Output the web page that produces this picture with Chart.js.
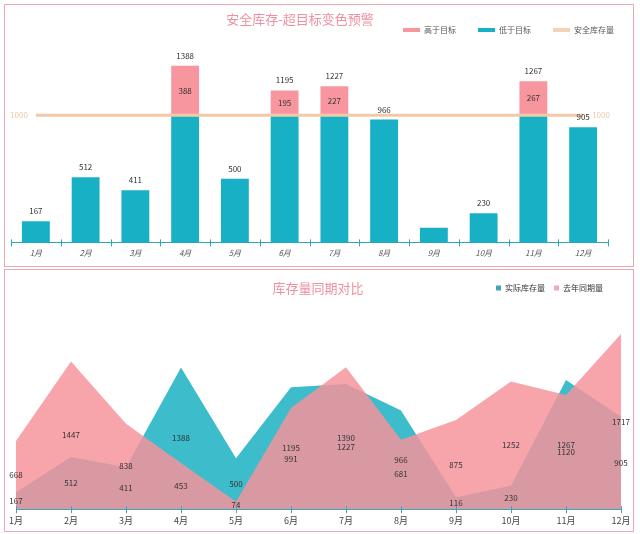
<!DOCTYPE html>
<html><head><meta charset="utf-8">
<script src="https://cdn.jsdelivr.net/npm/chart.js@4.4.1/dist/chart.umd.min.js"></script>
<style>
html,body{margin:0;padding:0;background:#fff;}
body{width:640px;height:534px;position:relative;overflow:hidden;font-family:"Noto Sans CJK SC",sans-serif;}
.panel{position:absolute;left:4px;width:628px;height:261px;border:1px solid #eba8b0;}
#p1{top:4px;}
#p2{top:269px;}
.wrap{position:absolute;left:0;width:640px;height:266px;}
#w1{top:0;}
#w2{top:268px;}
canvas{display:block;}
</style></head>
<body>
<div class="panel" id="p1"></div><div class="panel" id="p2"></div>
<div class="wrap" id="w1"><canvas id="c1" width="640" height="266"></canvas></div>
<div class="wrap" id="w2"><canvas id="c2" width="640" height="266"></canvas></div>
<script>
// ---- data ----
const months = ['1月','2月','3月','4月','5月','6月','7月','8月','9月','10月','11月','12月'];
const actualStock   = [167, 512, 411, 1388, 500, 1195, 1227, 966, 116, 230, 1267, 905];
const belowTarget   = [167, 512, 411, 1000, 500, 1000, 1000, 966, 116, 230, 1000, 905];
const aboveTarget   = [0, 0, 0, 388, 0, 195, 227, 0, 0, 0, 267, 0];
const safetyStock   = [1000, 1000, 1000, 1000, 1000, 1000, 1000, 1000, 1000, 1000, 1000, 1000];
const barTopLabels  = ['167','512','411','1388','500','1195','1227','966','','230','1267','905'];
const lastYearStock = [668, 1447, 838, 453, 74, 991, 1390, 681, 875, 1252, 1120, 1717];
const title1 = '安全库存-超目标变色预警';
const title2 = '库存量同期对比';
const legend1 = ['低于目标', '高于目标', '安全库存量'];
const legend2 = ['去年同期量', '实际库存量'];

const FAM = '"Noto Sans CJK SC", "Noto Sans", sans-serif';
const TEAL = '#18b0c4', PINK = '#f7969f', PEACH = '#f3caa8';

const titlePlugin = {
  id: 'customTitle',
  afterDraw(chart, args, o) {
    const ctx = chart.ctx; ctx.save();
    ctx.font = o.size + 'px ' + FAM; ctx.fillStyle = o.color;
    ctx.textAlign = 'center'; ctx.textBaseline = 'middle';
    ctx.fillText(o.text, o.x, o.y); ctx.restore();
  }
};
const legendShift = {
  id: 'legendShift',
  afterLayout(chart, args, o) {
    if (chart.legend && o.right) { chart.legend.right = o.right; }
  }
};
const tickPlugin = {
  id: 'axisTicks',
  afterDraw(chart, args, o) {
    const xs = chart.scales.x, ctx = chart.ctx, y0 = chart.chartArea.bottom;
    const n = chart.data.labels.length;
    const pos = [];
    if (o.between) { for (let i = 0; i <= n; i++) pos.push(xs.getPixelForValue(i - 0.5)); }
    else { for (let i = 0; i < n; i++) pos.push(xs.getPixelForValue(i)); }
    ctx.save(); ctx.strokeStyle = o.color; ctx.lineWidth = 1;
    pos.forEach(p => { const px = Math.round(p) + 0.5; ctx.beginPath(); ctx.moveTo(px, y0 - 3); ctx.lineTo(px, y0 + 4); ctx.stroke(); });
    ctx.restore();
  }
};

const barLabelPlugin = {
  id: 'barLabels',
  afterDatasetsDraw(chart) {
    const xs = chart.scales.x, ys = chart.scales.y, ctx = chart.ctx;
    ctx.save();
    ctx.font = '8px ' + FAM; ctx.fillStyle = '#333'; ctx.textAlign = 'center'; ctx.textBaseline = 'middle';
    actualStock.forEach((v, i) => {
      const px = xs.getPixelForValue(i);
      if (barTopLabels[i]) ctx.fillText(barTopLabels[i], px, ys.getPixelForValue(v) - 10);
      if (aboveTarget[i] > 0) {
        const yMid = (ys.getPixelForValue(belowTarget[i]) + ys.getPixelForValue(belowTarget[i] + aboveTarget[i])) / 2;
        ctx.fillText(String(aboveTarget[i]), px, yMid);
      }
    });
    const meta = chart.getDatasetMeta(2);
    const first = meta.data[0], last = meta.data[meta.data.length - 1];
    ctx.fillStyle = '#ecc9ad';
    ctx.textAlign = 'right'; ctx.fillText(String(safetyStock[0]), first.x - 8, first.y);
    ctx.textAlign = 'left'; ctx.fillText(String(safetyStock[safetyStock.length - 1]), last.x + 9, last.y);
    ctx.restore();
  }
};

const areaLabelPlugin = {
  id: 'areaLabels',
  afterDatasetsDraw(chart) {
    const xs = chart.scales.x, ys = chart.scales.y, ctx = chart.ctx;
    ctx.save();
    ctx.font = '8px ' + FAM; ctx.fillStyle = '#333'; ctx.textAlign = 'center'; ctx.textBaseline = 'middle';
    [actualStock, lastYearStock].forEach(arr => arr.forEach((v, i) => {
      ctx.fillText(String(v), xs.getPixelForValue(i), ys.getPixelForValue(v / 2));
    }));
    ctx.restore();
  }
};

function legendItems(chart) {
  const items = Chart.defaults.plugins.legend.labels.generateLabels(chart);
  items.forEach(it => {
    const ds = chart.data.datasets[it.datasetIndex];
    it.fillStyle = ds.legendColor || ds.backgroundColor;
    it.strokeStyle = it.fillStyle; it.lineWidth = 0;
  });
  return items;
}

// ---- chart 1 ----
const legendRank1 = {0: 1, 1: 0, 2: 2};
new Chart(document.getElementById('c1'), {
  type: 'bar',
  data: {
    labels: months,
    datasets: [
      { label: legend1[0], data: belowTarget, backgroundColor: TEAL, order: 2, stack: 's', categoryPercentage: 1, barPercentage: 0.56 },
      { label: legend1[1], data: aboveTarget, backgroundColor: PINK, order: 3, stack: 's', categoryPercentage: 1, barPercentage: 0.56 },
      { type: 'line', label: legend1[2], data: safetyStock, borderColor: PEACH, backgroundColor: PEACH, legendColor: '#f2d3ba', borderWidth: 3, pointRadius: 0, fill: false, order: 0, stack: 'line' }
    ]
  },
  options: {
    responsive: false, animation: false, devicePixelRatio: 1,
    layout: { padding: { left: 11, right: 32, top: 4, bottom: 2 } },
    scales: {
      x: { stacked: true, offset: true, grid: { display: false, drawTicks: false },
           border: { display: true, color: '#2aa7b9', width: 1 },
           ticks: { font: { size: 8, style: 'italic', family: FAM }, color: '#555', padding: 6, maxRotation: 0, autoSkip: false } },
      y: { stacked: true, display: false, min: 0, max: 1560 }
    },
    plugins: {
      title: { display: false }, tooltip: { enabled: false },
      legend: { position: 'top', align: 'end',
        labels: { boxWidth: 17, boxHeight: 4, padding: 22, font: { size: 8, family: FAM }, color: '#555',
                  sort: (a, b) => legendRank1[a.datasetIndex] - legendRank1[b.datasetIndex], generateLabels: legendItems } },
      customTitle: { text: title1, x: 300, y: 19, size: 13, color: '#f0909f' },
      legendShift: { right: 636 },
      axisTicks: { between: true, color: '#2aa7b9' }
    }
  },
  plugins: [titlePlugin, legendShift, tickPlugin, barLabelPlugin]
});

// ---- chart 2 ----
new Chart(document.getElementById('c2'), {
  type: 'line',
  data: {
    labels: months,
    datasets: [
      { label: legend2[0], data: lastYearStock, fill: 'origin', backgroundColor: 'rgba(246,146,155,0.84)', legendColor: '#f2aab2', borderColor: 'rgba(0,0,0,0)', borderWidth: 0, pointRadius: 0, tension: 0 },
      { label: legend2[1], data: actualStock, fill: 'origin', backgroundColor: '#3dbccb', legendColor: '#3aa9bd', borderColor: 'rgba(0,0,0,0)', borderWidth: 0, pointRadius: 0, tension: 0 }
    ]
  },
  options: {
    responsive: false, animation: false, devicePixelRatio: 1,
    layout: { padding: { left: 16, right: 19, top: 7, bottom: 2 } },
    scales: {
      x: { offset: false, grid: { display: false, drawTicks: false },
           border: { display: true, color: '#3aa6bb', width: 1 },
           ticks: { font: { size: 9, family: FAM }, color: '#444', padding: 6, maxRotation: 0, autoSkip: false } },
      y: { display: false, min: 0, max: 2030 }
    },
    plugins: {
      title: { display: false }, tooltip: { enabled: false },
      legend: { position: 'top', align: 'end',
        labels: { boxWidth: 5, boxHeight: 5, padding: 9, font: { size: 8, family: FAM }, color: '#333',
                  sort: (a, b) => b.datasetIndex - a.datasetIndex, generateLabels: legendItems } },
      customTitle: { text: title2, x: 318, y: 20, size: 13, color: '#f0909f' },
      legendShift: { right: 612 },
      axisTicks: { between: false, color: '#3aa6bb' }
    }
  },
  plugins: [titlePlugin, legendShift, tickPlugin, areaLabelPlugin]
});
</script>
</body></html>
